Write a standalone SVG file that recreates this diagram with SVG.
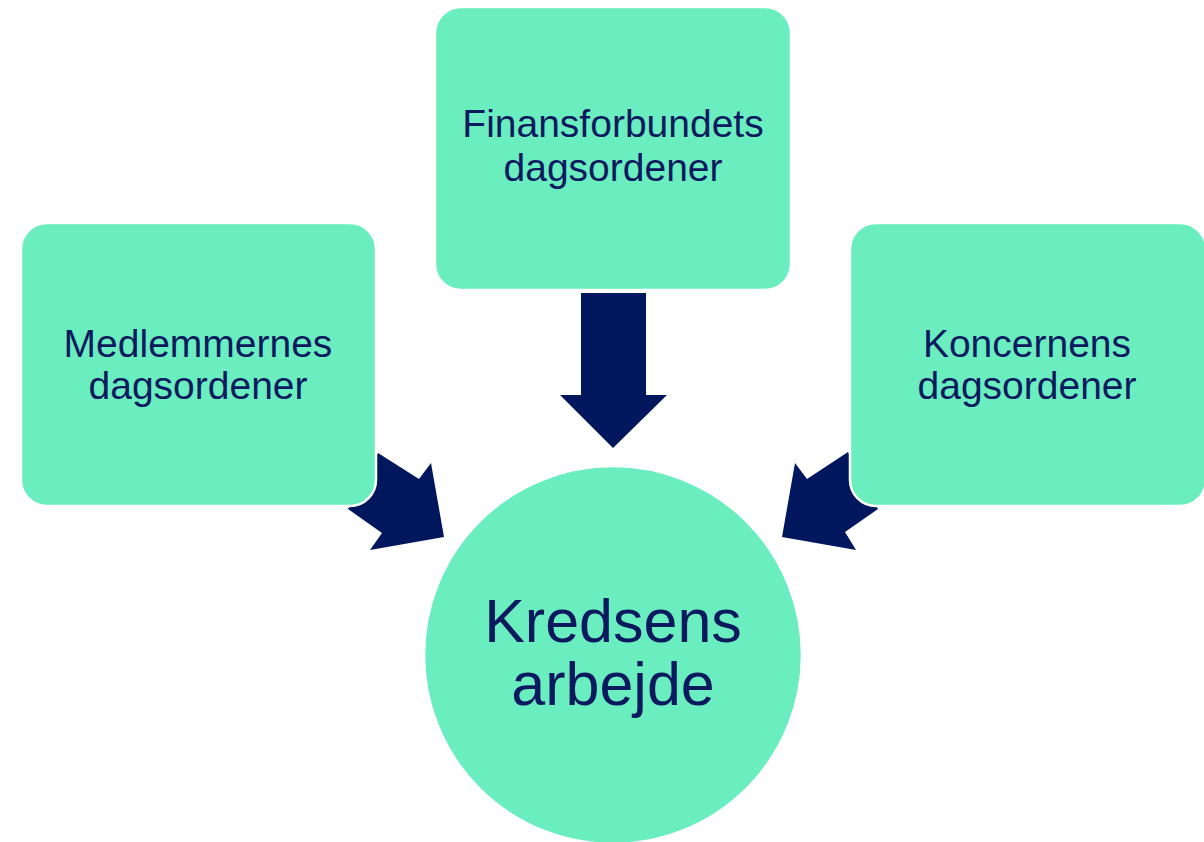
<svg xmlns="http://www.w3.org/2000/svg" width="1204" height="842" viewBox="0 0 1204 842">
<style>
.box{fill:#6AEEBF;stroke:#FFFFFF;stroke-width:2.5}
.arrow{fill:#00175E}
.lbl{font-family:"Liberation Sans",Arial,sans-serif;fill:#0B1A5E;text-anchor:middle}
.small{font-size:39px}
.big{font-size:61px}
</style>
<rect width="1204" height="842" fill="#FFFFFF"/>
<g id="connectors">
<polygon class="arrow" points="581,293 646,293 646,395 667,395 613,448 560,395 581,395"/>
<polygon class="arrow" points="378,453 419,479 431,463 444,537 370,550 382,533 348,509"/>
<polygon class="arrow" points="848,452 807,479 795,463 782,537 856,550 845,532 878,509"/>
</g>
<g id="node-finansforbundet">
<rect class="box" x="435" y="7" width="356" height="283" rx="26"/>
<text class="lbl small" x="613" y="137">Finansforbundets</text>
<text class="lbl small" x="613" y="181">dagsordener</text>
</g>
<g id="node-medlemmer">
<rect class="box" x="21" y="223" width="355" height="283" rx="26"/>
<text class="lbl small" x="198" y="357">Medlemmernes</text>
<text class="lbl small" x="198" y="399">dagsordener</text>
</g>
<g id="node-koncern">
<rect class="box" x="850" y="223" width="356" height="283" rx="26"/>
<text class="lbl small" x="1027" y="357">Koncernens</text>
<text class="lbl small" x="1027" y="399">dagsordener</text>
</g>
<g id="node-kreds">
<circle class="box" cx="613" cy="655" r="189"/>
<text class="lbl big" x="613" y="642">Kredsens</text>
<text class="lbl big" x="613" y="705">arbejde</text>
</g>
</svg>
